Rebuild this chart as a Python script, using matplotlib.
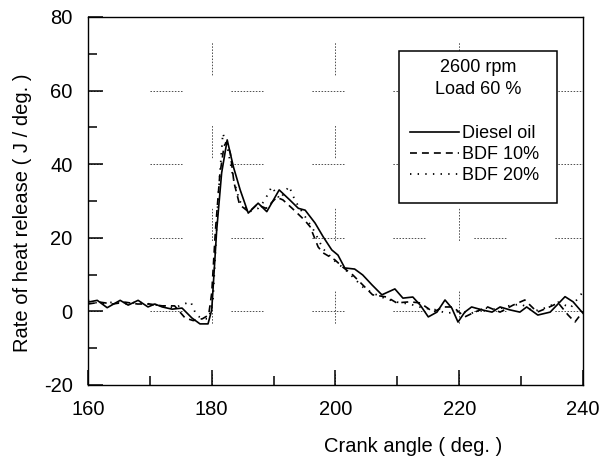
import matplotlib
matplotlib.use("Agg")
import matplotlib.pyplot as plt
from matplotlib.patches import Rectangle
from matplotlib.ticker import MultipleLocator

plt.rcParams['font.family'] = ['Liberation Sans', 'DejaVu Sans']
plt.rcParams['lines.scale_dashes'] = False
plt.rcParams['axes.unicode_minus'] = False

# Diesel oil (solid)
diesel_x = [160, 161.5, 163.1, 165.2, 166.5, 168.1, 169.7, 170.8, 172, 173.6, 175.2, 176.8,
            178.1, 179.4, 180, 180.8, 181.6, 182.5, 183.5, 184.6, 185.9, 187.5, 188.9, 190.9,
            192.6, 194, 195.1, 196.7, 198, 199.4, 200.4, 201.5, 203.1, 204.4, 205.9, 207.5,
            209.6, 210.9, 212.5, 213.7, 215, 216.4, 217.7, 218.8, 219.8, 220.9, 222, 223.7,
            225.3, 226.6, 228.2, 229.8, 230.9, 232.7, 234.7, 237.1, 238.4, 240]
diesel_y = [2.5, 3, 1, 3, 1.7, 3, 1.2, 2, 1.2, 0.6, 0.9, -1.8,
            -3.4, -3.4, 0.4, 22, 37.6, 46.6, 39.3, 33, 26.7, 29.4, 27.1, 33,
            30.3, 28, 27.5, 24, 20.3, 16.7, 15.3, 11.8, 11.5, 9.9, 7.2, 4.5,
            6.1, 3.6, 3.9, 1.7, -1.5, -0.2, 3.1, 0.9, -2.9, -0.2, 1.2, 0.4,
            -0.2, 1.2, 0.4, -0.2, 1.2, -1, -0.2, 4, 2.6, -0.5]

# BDF 10% (dashed)
bdf10_x = [160, 162, 164, 166, 168, 170, 172, 174, 175.7, 177, 178.5, 179.5, 180, 180.6,
           181.3, 182, 182.4, 183, 183.6, 184.5, 186, 187.3, 188.8, 190.5, 191.5, 193, 195,
           195.9, 197.2, 198, 199.9, 201.2, 202.8, 204.4, 206, 208.3, 209.9, 212, 213.7,
           215.8, 217.4, 219, 220.9, 222.5, 224.6, 226.6, 228.7, 230.6, 232.6, 234.2, 236,
           237.6, 238.7, 240]
bdf10_y = [2, 2.5, 2, 2.5, 2, 2, 1.5, 1.5, -1.8, -2.5, -2, -1, 5, 22,
           37, 45, 46, 43, 35, 29, 27, 29, 28, 31, 30.3, 28, 24.8,
           23, 17.5, 15.9, 14, 12, 9.9, 7.2, 4.5, 3.9, 2.3, 2.6, 2.3,
           -0.2, 1.2, 1.2, -1.5, -0.2, 1.2, -0.2, 1.7, 3.1, -0.2, 0.9, 2.3,
           -1, -2.9, 0]

# BDF 20% (dotted)
bdf20_x = [160, 162, 164, 166, 168, 170, 172, 174, 175.5, 176.6, 177.5, 178.5, 179.5, 180.2,
           181, 181.8, 182.6, 183.5, 184.5, 186, 187.5, 188.5, 189.7, 191, 192.5, 193.5, 195,
           196.5, 198, 200, 201.5, 203, 204.5, 206, 208, 210, 212, 214, 216, 218, 220, 222,
           224, 226, 228, 230, 232, 234, 236, 238, 240]
bdf20_y = [3, 2, 2.5, 2, 2.5, 2, 1.5, 1, 2, 2.6, -1, -2, -2, 3,
           30, 48.4, 44, 36, 30, 27, 28, 30, 33.9, 30.5, 34, 30, 26,
           22, 17, 13.5, 11.5, 9, 6.5, 5, 3.5, 2.5, 2, 1, 0.5, -0.5, 0, -0.5,
           1, 0.5, 1.5, 2, 0, 1, 2.5, 1, 5.3]

series_labels = ['Diesel oil', 'BDF 10%', 'BDF 20%']
condition_text = '2600 rpm\nLoad 60 %'

fig = plt.figure(figsize=(6.03, 4.61), dpi=100)
ax = fig.add_axes([0.1459, 0.1649, 0.8209, 0.7983])

# сетка: отрезки из мелких точек с большими промежутками
# (Agg принимает не больше 32 элементов в шаблоне штриха)
h_dash = (13.7, [1.1, 1.1] * 10 + [1.1, 35.2])
v_dash = (15.1, [1.1, 1.1] * 10 + [1.1, 36.5])
for yv in [0, 20, 40, 60]:
    ax.axhline(yv, color='0.2', lw=0.6, ls=h_dash, zorder=1)
for xv in [180, 200, 220]:
    ax.axvline(xv, color='0.2', lw=0.6, ls=v_dash, zorder=1)

l1, = ax.plot(diesel_x, diesel_y, color='black', lw=1.2, ls='-', label=series_labels[0], zorder=3)
l2, = ax.plot(bdf10_x, bdf10_y, color='black', lw=1.2, ls=(0, (5, 3.6)), label=series_labels[1], zorder=3)
l3, = ax.plot(bdf20_x, bdf20_y, color='black', lw=1.3, ls=(0, (1, 4.5)), label=series_labels[2], zorder=3)

ax.set_xlim(160, 240)
ax.set_ylim(-20, 80)
ax.xaxis.set_major_locator(MultipleLocator(20))
ax.xaxis.set_minor_locator(MultipleLocator(10))
ax.yaxis.set_major_locator(MultipleLocator(20))
ax.yaxis.set_minor_locator(MultipleLocator(10))
ax.tick_params(which='both', direction='in', top=False, right=False, width=1.1,
               labelsize=14.5, pad=11)
ax.tick_params(which='major', length=10.8)
ax.tick_params(which='minor', length=6.5)
for s in ax.spines.values():
    s.set_linewidth(1.0)

ax.set_xlabel('Crank angle ( deg. )', fontsize=14.5)
ax.set_ylabel('Rate of heat release ( J / deg. )', fontsize=14.5)
ax.xaxis.set_label_coords(0.657, -0.14)
ax.yaxis.set_label_coords(-0.113, 0.467)

# рамка легенды
ax.add_patch(Rectangle((0.6283, 0.4946), 0.3192, 0.4130, transform=ax.transAxes,
                       fill=True, facecolor='white', edgecolor='black', lw=1.1, zorder=4))
ax.text(0.7879, 0.885, condition_text, transform=ax.transAxes, ha='center', va='top',
        fontsize=13, linespacing=1.35, zorder=5)
leg = ax.legend(handles=[l1, l2, l3], loc='upper left', bbox_to_anchor=(0.644, 0.716),
                frameon=False, fontsize=13, handlelength=2.7, handletextpad=0.15,
                labelspacing=0.22, borderpad=0.2, borderaxespad=0)
leg.set_zorder(6)

fig.savefig('out.png', dpi=100)
